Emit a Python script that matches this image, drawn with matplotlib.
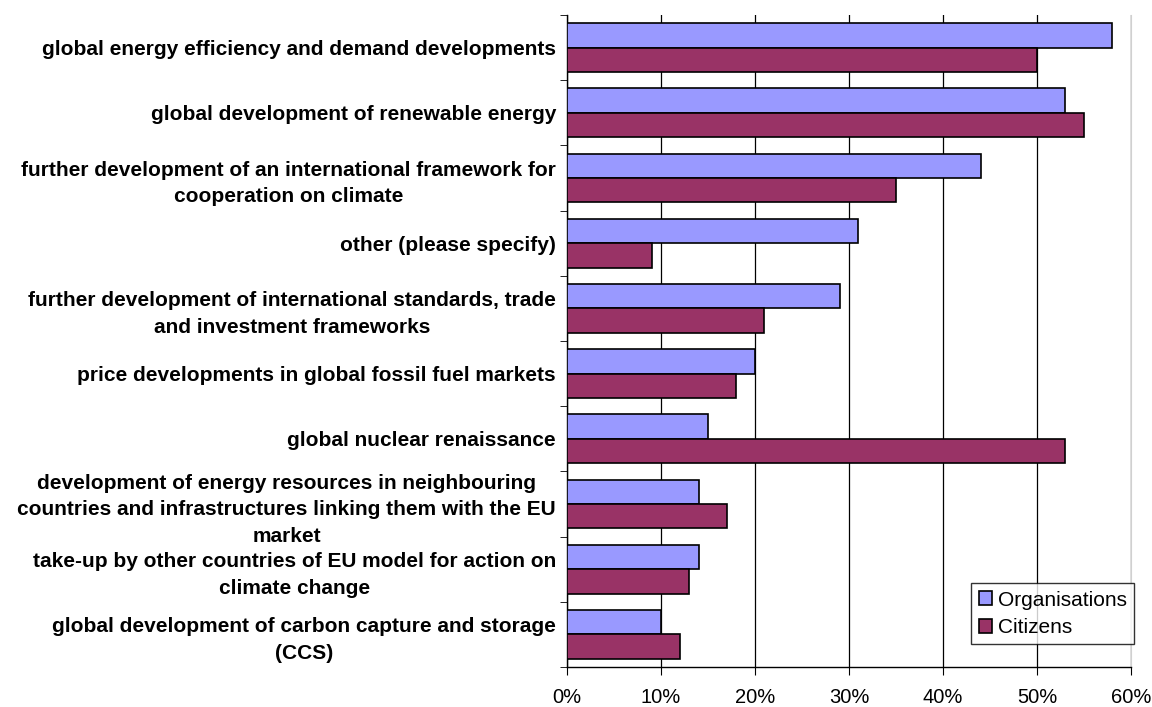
import numpy as np
import matplotlib
matplotlib.use("Agg")
import matplotlib.pyplot as plt
from matplotlib.ticker import FuncFormatter

plt.rcParams['font.family'] = ['Liberation Sans', 'DejaVu Sans']

categories = [
    "global energy efficiency and demand developments",
    "global development of renewable energy",
    "further development of an international framework for\ncooperation on climate",
    "other (please specify)",
    "further development of international standards, trade\nand investment frameworks",
    "price developments in global fossil fuel markets",
    "global nuclear renaissance",
    "development of energy resources in neighbouring\ncountries and infrastructures linking them with the EU\nmarket",
    "take-up by other countries of EU model for action on\nclimate change",
    "global development of carbon capture and storage\n(CCS)",
]
organisations = [58, 53, 44, 31, 29, 20, 15, 14, 14, 10]
citizens = [50, 55, 35, 9, 21, 18, 53, 17, 13, 12]
xticks = [0, 10, 20, 30, 40, 50, 60]

fig = plt.figure(figsize=(11.52, 7.07), dpi=100)
ax = fig.add_axes([567/1152, 1-667/707, (1131-567)/1152, (667-15)/707])

y = np.arange(len(categories))
h = 0.375
ax.barh(y - h/2, organisations, height=h, color='#9999FF', edgecolor='black', linewidth=1.2, label='Organisations', zorder=3)
ax.barh(y + h/2, citizens, height=h, color='#993366', edgecolor='black', linewidth=1.2, label='Citizens', zorder=3)

ax.set_xlim(0, 60)
ax.set_ylim(len(categories) - 0.5, -0.5)
ax.set_xticks(xticks)
ax.xaxis.set_major_formatter(FuncFormatter(lambda v, p: f"{v:.0f}%"))
ax.grid(axis='x', color='black', linewidth=0.9, zorder=0)

# category labels centred on each group, ticks between groups
ax.set_yticks(y)
ax.set_yticklabels(categories, fontsize=15, fontweight='bold', linespacing=1.5,
                   multialignment='center')
ax.tick_params(axis='y', length=0, pad=8)
ax.set_yticks(np.arange(len(categories) + 1) - 0.5, minor=True)
ax.tick_params(axis='y', which='minor', length=5, direction='out')
ax.tick_params(axis='x', length=6, direction='out', labelsize=14.5, pad=9)

ax.spines['top'].set_visible(False)
ax.spines['right'].set_color('#d0d0d0')
ax.spines['left'].set_linewidth(1.0)
ax.spines['bottom'].set_linewidth(1.0)

leg = ax.legend(loc='lower right', bbox_to_anchor=(1.005, 0.035), fontsize=15, frameon=True,
                fancybox=False, edgecolor='black', handlelength=0.65, handleheight=0.65,
                handletextpad=0.25, borderpad=0.35, labelspacing=0.4, borderaxespad=0)
leg.get_frame().set_linewidth(1.0)

fig.savefig('out.png', dpi=100)
